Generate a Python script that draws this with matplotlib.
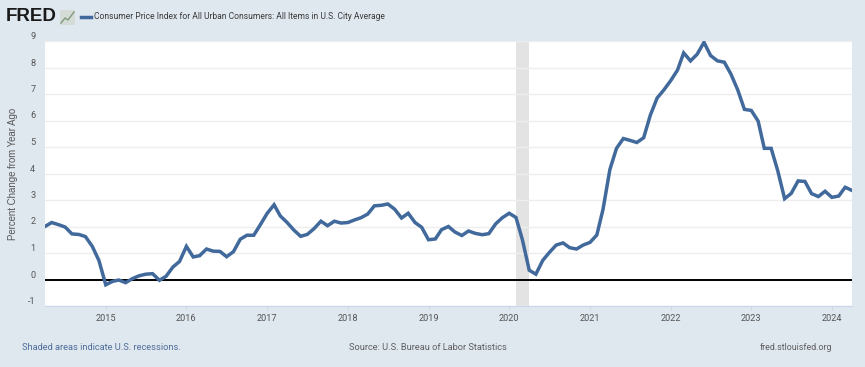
import matplotlib
matplotlib.use("Agg")
import matplotlib.pyplot as plt
import matplotlib.dates as mdates
import pandas as pd
from matplotlib.lines import Line2D
from matplotlib.patches import Rectangle

plt.rcParams['font.family'] = ['Roboto', 'Liberation Sans', 'DejaVu Sans']
plt.rcParams['axes.unicode_minus'] = False

start_month = "2014-04-01"
end_month = "2024-04-01"
cpi_yoy = [
    2.0, 2.15, 2.07, 1.98, 1.72, 1.7, 1.62, 1.25, 0.72,
    -0.2, -0.07, -0.02, -0.12, 0.03, 0.14, 0.2, 0.22, -0.03, 0.12, 0.47, 0.68,
    1.25, 0.85, 0.9, 1.15, 1.07, 1.06, 0.86, 1.05, 1.52, 1.67, 1.67, 2.07,
    2.5, 2.82, 2.4, 2.15, 1.87, 1.63, 1.7, 1.92, 2.2, 2.03, 2.2, 2.13,
    2.15, 2.25, 2.33, 2.47, 2.78, 2.8, 2.85, 2.65, 2.32, 2.5, 2.15, 1.97,
    1.5, 1.53, 1.88, 2.0, 1.79, 1.66, 1.83, 1.74, 1.69, 1.73, 2.1, 2.33,
    2.5, 2.34, 1.5, 0.35, 0.2, 0.72, 1.02, 1.3, 1.38, 1.2, 1.15, 1.3,
    1.4, 1.68, 2.65, 4.15, 4.95, 5.32, 5.25, 5.17, 5.35, 6.2, 6.85, 7.15,
    7.5, 7.9, 8.55, 8.25, 8.5, 8.95, 8.45, 8.25, 8.2, 7.75, 7.15, 6.42,
    6.38, 5.98, 4.95, 4.95, 4.1, 3.05, 3.25, 3.72, 3.7, 3.24, 3.13, 3.33,
    3.1, 3.15, 3.48, 3.36,
]
recession_start = "2020-02-01"
recession_end = "2020-04-01"
y_ticks = [-1, 0, 1, 2, 3, 4, 5, 6, 7, 8, 9]
year_ticks = [2015, 2016, 2017, 2018, 2019, 2020, 2021, 2022, 2023, 2024]
series_name = "Consumer Price Index for All Urban Consumers: All Items in U.S. City Average"
y_title = "Percent Change from Year Ago"

W, H = 865, 367
BG = "#dfe7ef"
BLUE = "#41699b"
GRAY = "#555555"

dates = pd.date_range(start_month, end_month, freq="MS")
fig = plt.figure(figsize=(W / 100, H / 100), dpi=100, facecolor=BG)
ax = fig.add_axes([45 / W, 1 - 306 / H, (852 - 45) / W, (306 - 41) / H], facecolor="white")

ax.axvspan(pd.Timestamp(recession_start), pd.Timestamp(recession_end), color="#e3e3e3", lw=0, zorder=1)
ax.set_yticks(y_ticks)
ax.grid(axis="y", color="#eeeeee", lw=1.0, zorder=0)
ax.axhline(0, color="black", lw=1.4, zorder=2)
ax.plot(dates, cpi_yoy, color=BLUE, lw=2.5, solid_joinstyle="miter", zorder=3, clip_on=True)

ax.set_xlim(pd.Timestamp(start_month), pd.Timestamp(end_month))
ax.set_ylim(-1, 9)
ax.set_xticks([pd.Timestamp(f"{y}-01-01") for y in year_ticks])
ax.xaxis.set_major_formatter(mdates.DateFormatter("%Y"))
for s in ("top", "left", "right"):
    ax.spines[s].set_visible(False)
ax.spines["bottom"].set_color("#ccd6eb")
ax.spines["bottom"].set_linewidth(0.8)
ax.tick_params(axis="y", length=0, pad=7, labelsize=6.6, labelcolor=GRAY)
ax.tick_params(axis="x", length=3, width=0.6, color="#ccd6eb", pad=3, labelsize=6.6, labelcolor=GRAY)
for lab in ax.get_yticklabels():
    lab.set_va("bottom")
fig.text(13 / W, 1 - 173.5 / H, y_title, rotation=90, ha="center", va="center",
         fontsize=6.95, color=GRAY, family=['Liberation Sans', 'DejaVu Sans'])

renderer = fig.canvas.get_renderer()

def put(x, y, s, width=None, **kw):
    t = fig.text(x / W, 1 - y / H, s, va="center", **kw)
    if width:
        t.set_fontsize(t.get_fontsize() * width / t.get_window_extent(renderer).width)
    return t

put(6, 16.5, "FRED", width=51, fontsize=14, fontweight="bold", color="#1a1a1a",
    family=['Liberation Sans', 'DejaVu Sans'])
fig.add_artist(Rectangle((60 / W, 1 - 25 / H), 15 / W, 15 / H, transform=fig.transFigure,
                         facecolor="#d5dcd8", edgecolor="none"))
fig.add_artist(Line2D([61 / W, 65 / W, 68 / W, 74 / W],
                      [1 - 23 / H, 1 - 18 / H, 1 - 20 / H, 1 - 12 / H],
                      transform=fig.transFigure, color="#7d9a7a", lw=1.0))
fig.add_artist(Line2D([81 / W, 91 / W], [1 - 16.5 / H, 1 - 16.5 / H],
                      transform=fig.transFigure, color=BLUE, lw=2.5))
put(94.5, 16.5, series_name, width=292, fontsize=7, color="#3a3a3a")
put(21.5, 347, "Shaded areas indicate U.S. recessions.", width=161, fontsize=8, color="#4f6d9a")
put(349, 347, "Source: U.S. Bureau of Labor Statistics", width=160, fontsize=8, color="#5f5f5f")
put(759.5, 347, "fred.stlouisfed.org", width=73, fontsize=8, color="#5f5f5f")

fig.savefig("out.png", dpi=100, facecolor=BG)
